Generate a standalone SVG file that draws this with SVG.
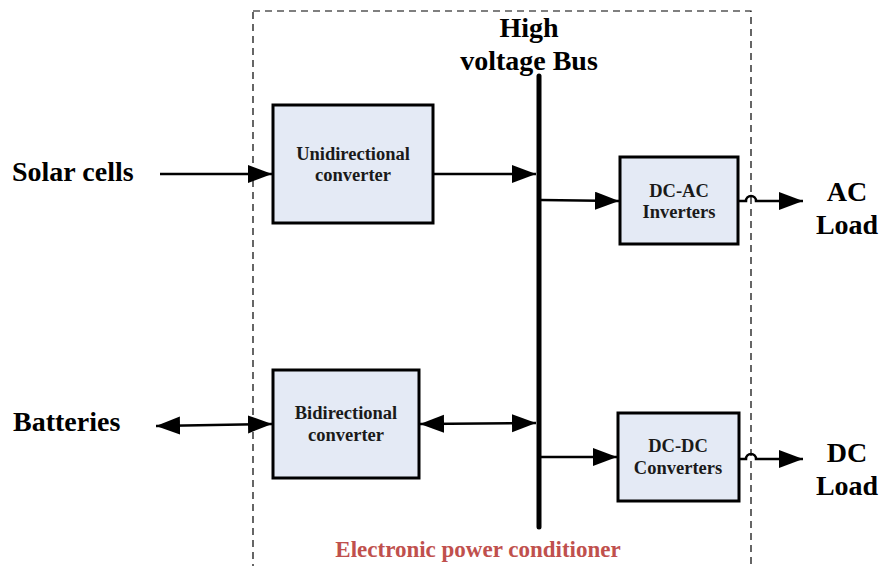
<svg xmlns="http://www.w3.org/2000/svg" width="881" height="566" viewBox="0 0 881 566">
<style>
.box{fill:#e4eaf5;stroke:#000;stroke-width:3}
.bt{font-family:'Liberation Serif','Times New Roman',serif;font-weight:bold;font-size:18.5px;text-anchor:middle;fill:#1a1a1a}
.lbl{font-family:'Liberation Serif','Times New Roman',serif;font-weight:bold;font-size:28px;fill:#000}
.epc{font-family:'Liberation Serif','Times New Roman',serif;font-weight:bold;font-size:23px;fill:#c0504d;text-anchor:middle}
.ln{stroke:#000;stroke-width:2.5;fill:none}
</style>
<defs>
<marker id="ah" markerUnits="userSpaceOnUse" markerWidth="26" markerHeight="20" refX="24" refY="9" orient="auto-start-reverse">
<path d="M0,0 L24,9 L0,18 Z" fill="#000"/>
</marker>
</defs>
<rect x="253" y="11" width="498" height="580" fill="none" stroke="#000" stroke-width="1.2" stroke-dasharray="7,5"/>
<g id="bus">
<line x1="539" y1="76" x2="539" y2="527" stroke="#000" stroke-width="5" stroke-linecap="round"/>
<text class="lbl" x="529" y="37" text-anchor="middle">High</text>
<text class="lbl" x="529" y="70" text-anchor="middle">voltage Bus</text>
</g>
<g id="unidirectional">
<rect class="box" x="273" y="105" width="160" height="118"/>
<text class="bt" x="353" y="160">Unidirectional</text>
<text class="bt" x="353" y="181">converter</text>
</g>
<g id="bidirectional">
<rect class="box" x="273" y="370" width="146" height="108"/>
<text class="bt" x="346" y="419">Bidirectional</text>
<text class="bt" x="346" y="441">converter</text>
</g>
<g id="dcac">
<rect class="box" x="620" y="157" width="118" height="87"/>
<text class="bt" x="679" y="197">DC-AC</text>
<text class="bt" x="679" y="218">Inverters</text>
</g>
<g id="dcdc">
<rect class="box" x="618" y="413" width="121" height="88"/>
<text class="bt" x="678" y="452">DC-DC</text>
<text class="bt" x="678" y="474">Converters</text>
</g>
<g id="solar"><text class="lbl" x="12" y="181">Solar cells</text></g>
<g id="batteries"><text class="lbl" x="13" y="431">Batteries</text></g>
<g id="acload"><text class="lbl" x="847" y="201" text-anchor="middle">AC</text><text class="lbl" x="847" y="234" text-anchor="middle">Load</text></g>
<g id="dcload"><text class="lbl" x="847" y="462" text-anchor="middle">DC</text><text class="lbl" x="847" y="495" text-anchor="middle">Load</text></g>
<g id="epc"><text class="epc" x="478" y="557">Electronic power conditioner</text></g>
<g id="connectors">
<line class="ln" x1="160" y1="174" x2="272" y2="174" marker-end="url(#ah)"/>
<line class="ln" x1="433" y1="174" x2="536" y2="174" marker-end="url(#ah)"/>
<line class="ln" x1="156" y1="426" x2="272" y2="424" marker-start="url(#ah)" marker-end="url(#ah)"/>
<line class="ln" x1="420" y1="424" x2="536" y2="423" marker-start="url(#ah)" marker-end="url(#ah)"/>
<line class="ln" x1="541" y1="200" x2="619" y2="201" marker-end="url(#ah)"/>
<line class="ln" x1="541" y1="457" x2="617" y2="457" marker-end="url(#ah)"/>
<path class="ln" d="M739,201 L746,201 A5,5 0 0 1 756,201 L803,201" marker-end="url(#ah)"/>
<path class="ln" d="M740,459 L746,459 A5,5 0 0 1 756,459 L803,459" marker-end="url(#ah)"/>
</g>
</svg>
